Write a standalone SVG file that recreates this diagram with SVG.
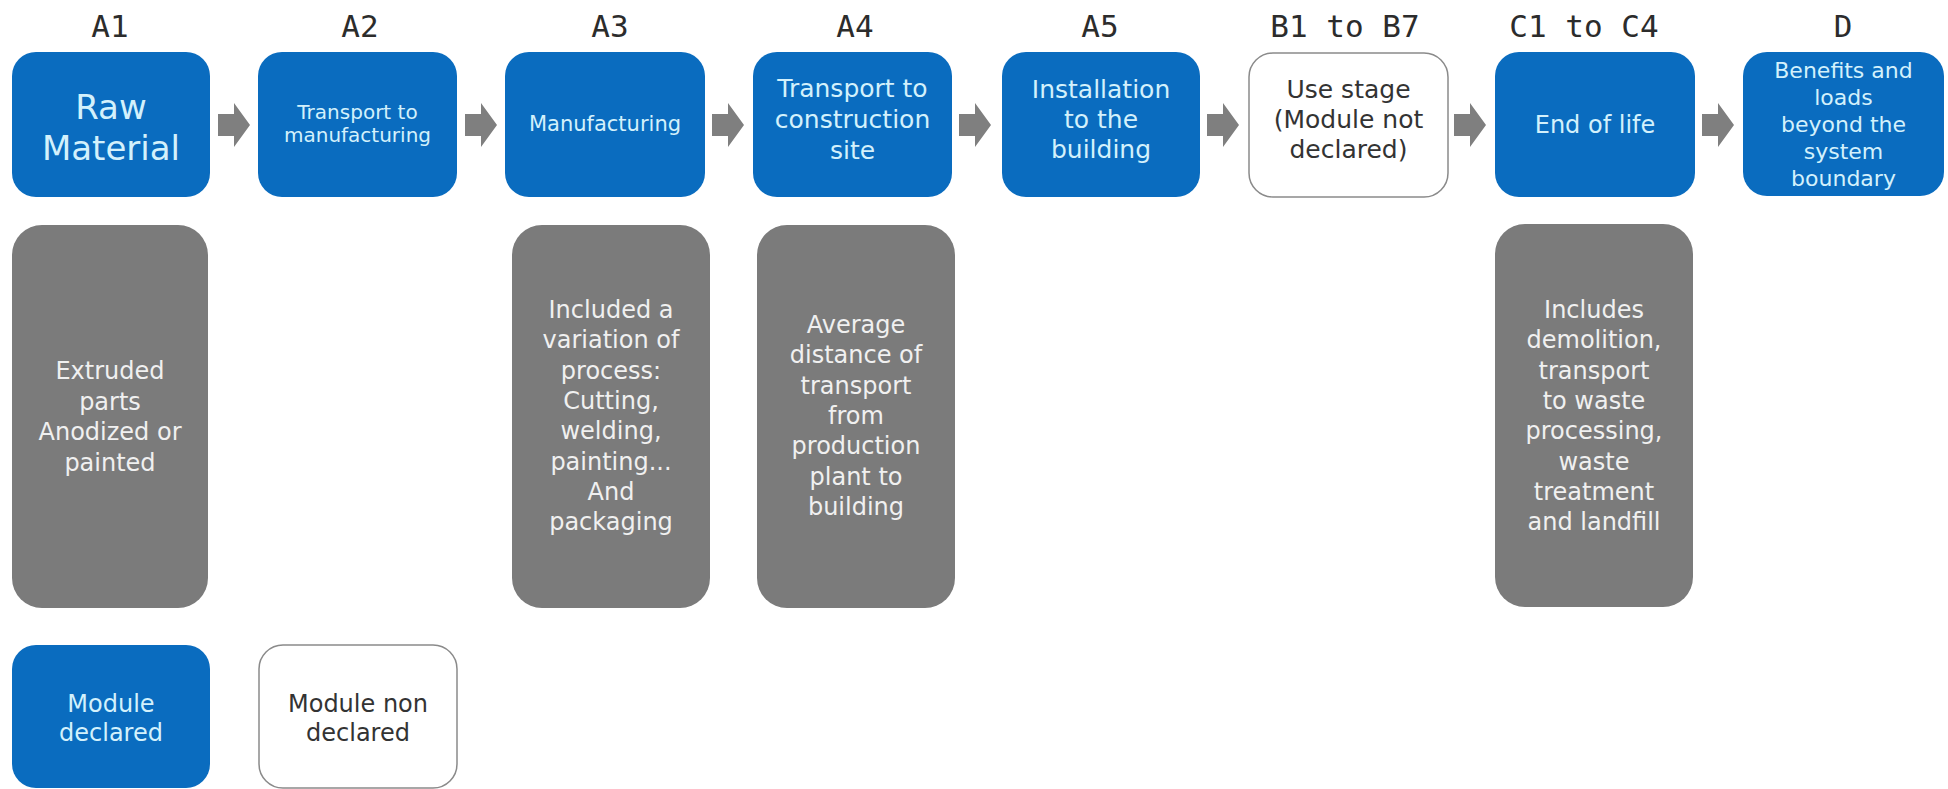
<svg xmlns="http://www.w3.org/2000/svg" width="1948" height="789" viewBox="0 0 1948 789">
<defs>
<style>
.hdr{font-family:"DejaVu Sans Mono","Liberation Mono",monospace;font-size:31px;fill:#2c2c2c;text-anchor:middle}
.blue{fill:#0a6cbf}
.gray{fill:#7b7b7b}
.white{fill:#ffffff;stroke:#8a8a8a;stroke-width:1.5}
.bt{font-family:"DejaVu Sans","Liberation Sans",sans-serif;fill:#d3f1fc;text-anchor:middle}
.gt{font-family:"DejaVu Sans","Liberation Sans",sans-serif;fill:#f0f0f0;text-anchor:middle;font-size:24px}
.dt{font-family:"DejaVu Sans","Liberation Sans",sans-serif;fill:#333333;text-anchor:middle}
.arrow{fill:#7f7f7f}
</style>
<path id="arr" d="M0,114 H16 V103 L32,125 L16,147 V136 H0 Z"/>
</defs>
<rect width="1948" height="789" fill="#ffffff"/>

<g id="headers">
<text class="hdr" x="110" y="37">A1</text>
<text class="hdr" x="360" y="37">A2</text>
<text class="hdr" x="610" y="37">A3</text>
<text class="hdr" x="855" y="37">A4</text>
<text class="hdr" x="1100" y="37">A5</text>
<text class="hdr" x="1345" y="37">B1 to B7</text>
<text class="hdr" x="1584" y="37">C1 to C4</text>
<text class="hdr" x="1843" y="37">D</text>
</g>

<g id="connectors" class="arrow">
<use href="#arr" x="218"/>
<use href="#arr" x="465"/>
<use href="#arr" x="712"/>
<use href="#arr" x="959"/>
<use href="#arr" x="1207"/>
<use href="#arr" x="1454"/>
<use href="#arr" x="1702"/>
</g>

<g id="node-a1">
<rect class="blue" x="12" y="52" width="198" height="145" rx="24"/>
<text class="bt" font-size="34" x="111" y="119">Raw</text>
<text class="bt" font-size="34" x="111" y="160">Material</text>
</g>
<g id="node-a2">
<rect class="blue" x="258" y="52" width="199" height="145" rx="24"/>
<text class="bt" font-size="20" x="357.5" y="119">Transport to</text>
<text class="bt" font-size="20" x="357.5" y="142">manufacturing</text>
</g>
<g id="node-a3">
<rect class="blue" x="505" y="52" width="200" height="145" rx="24"/>
<text class="bt" font-size="21" x="605" y="131">Manufacturing</text>
</g>
<g id="node-a4">
<rect class="blue" x="753" y="52" width="199" height="145" rx="24"/>
<text class="bt" font-size="25" x="852.5" y="97">Transport to</text>
<text class="bt" font-size="25" x="852.5" y="128">construction</text>
<text class="bt" font-size="25" x="852.5" y="159">site</text>
</g>
<g id="node-a5">
<rect class="blue" x="1002" y="52" width="198" height="145" rx="24"/>
<text class="bt" font-size="25" x="1101" y="98">Installation</text>
<text class="bt" font-size="25" x="1101" y="128">to the</text>
<text class="bt" font-size="25" x="1101" y="158">building</text>
</g>
<g id="node-b">
<rect class="white" x="1249" y="53" width="199" height="144" rx="24"/>
<text class="dt" font-size="25" x="1348.5" y="98">Use stage</text>
<text class="dt" font-size="25" x="1348.5" y="128">(Module not</text>
<text class="dt" font-size="25" x="1348.5" y="158">declared)</text>
</g>
<g id="node-c">
<rect class="blue" x="1495" y="52" width="200" height="145" rx="24"/>
<text class="bt" font-size="24" x="1595" y="133">End of life</text>
</g>
<g id="node-d">
<rect class="blue" x="1743" y="52" width="201" height="144" rx="24"/>
<text class="bt" font-size="22" x="1843.5" y="78">Benefits and</text>
<text class="bt" font-size="22" x="1843.5" y="105">loads</text>
<text class="bt" font-size="22" x="1843.5" y="132">beyond the</text>
<text class="bt" font-size="22" x="1843.5" y="159">system</text>
<text class="bt" font-size="22" x="1843.5" y="186">boundary</text>
</g>

<g id="note-a1">
<rect class="gray" x="12" y="225" width="196" height="383" rx="30"/>
<text class="gt" x="110" y="379">Extruded</text>
<text class="gt" x="110" y="409.5">parts</text>
<text class="gt" x="110" y="440">Anodized or</text>
<text class="gt" x="110" y="470.5">painted</text>
</g>
<g id="note-a3">
<rect class="gray" x="512" y="225" width="198" height="383" rx="30"/>
<text class="gt" x="611" y="318">Included a</text>
<text class="gt" x="611" y="348.3">variation of</text>
<text class="gt" x="611" y="378.6">process:</text>
<text class="gt" x="611" y="408.9">Cutting,</text>
<text class="gt" x="611" y="439.2">welding,</text>
<text class="gt" x="611" y="469.5">painting...</text>
<text class="gt" x="611" y="499.8">And</text>
<text class="gt" x="611" y="530.1">packaging</text>
</g>
<g id="note-a4">
<rect class="gray" x="757" y="225" width="198" height="383" rx="30"/>
<text class="gt" x="856" y="333">Average</text>
<text class="gt" x="856" y="363.3">distance of</text>
<text class="gt" x="856" y="393.6">transport</text>
<text class="gt" x="856" y="423.9">from</text>
<text class="gt" x="856" y="454.2">production</text>
<text class="gt" x="856" y="484.5">plant to</text>
<text class="gt" x="856" y="514.8">building</text>
</g>
<g id="note-c">
<rect class="gray" x="1495" y="224" width="198" height="383" rx="30"/>
<text class="gt" x="1594" y="318">Includes</text>
<text class="gt" x="1594" y="348.3">demolition,</text>
<text class="gt" x="1594" y="378.6">transport</text>
<text class="gt" x="1594" y="408.9">to waste</text>
<text class="gt" x="1594" y="439.2">processing,</text>
<text class="gt" x="1594" y="469.5">waste</text>
<text class="gt" x="1594" y="499.8">treatment</text>
<text class="gt" x="1594" y="530.1">and landfill</text>
</g>

<g id="legend-declared">
<rect class="blue" x="12" y="645" width="198" height="143" rx="24"/>
<text class="bt" font-size="24" x="111" y="712">Module</text>
<text class="bt" font-size="24" x="111" y="741">declared</text>
</g>
<g id="legend-non-declared">
<rect class="white" x="259" y="645" width="198" height="143" rx="24"/>
<text class="dt" font-size="24" x="358" y="712">Module non</text>
<text class="dt" font-size="24" x="358" y="741">declared</text>
</g>
</svg>
